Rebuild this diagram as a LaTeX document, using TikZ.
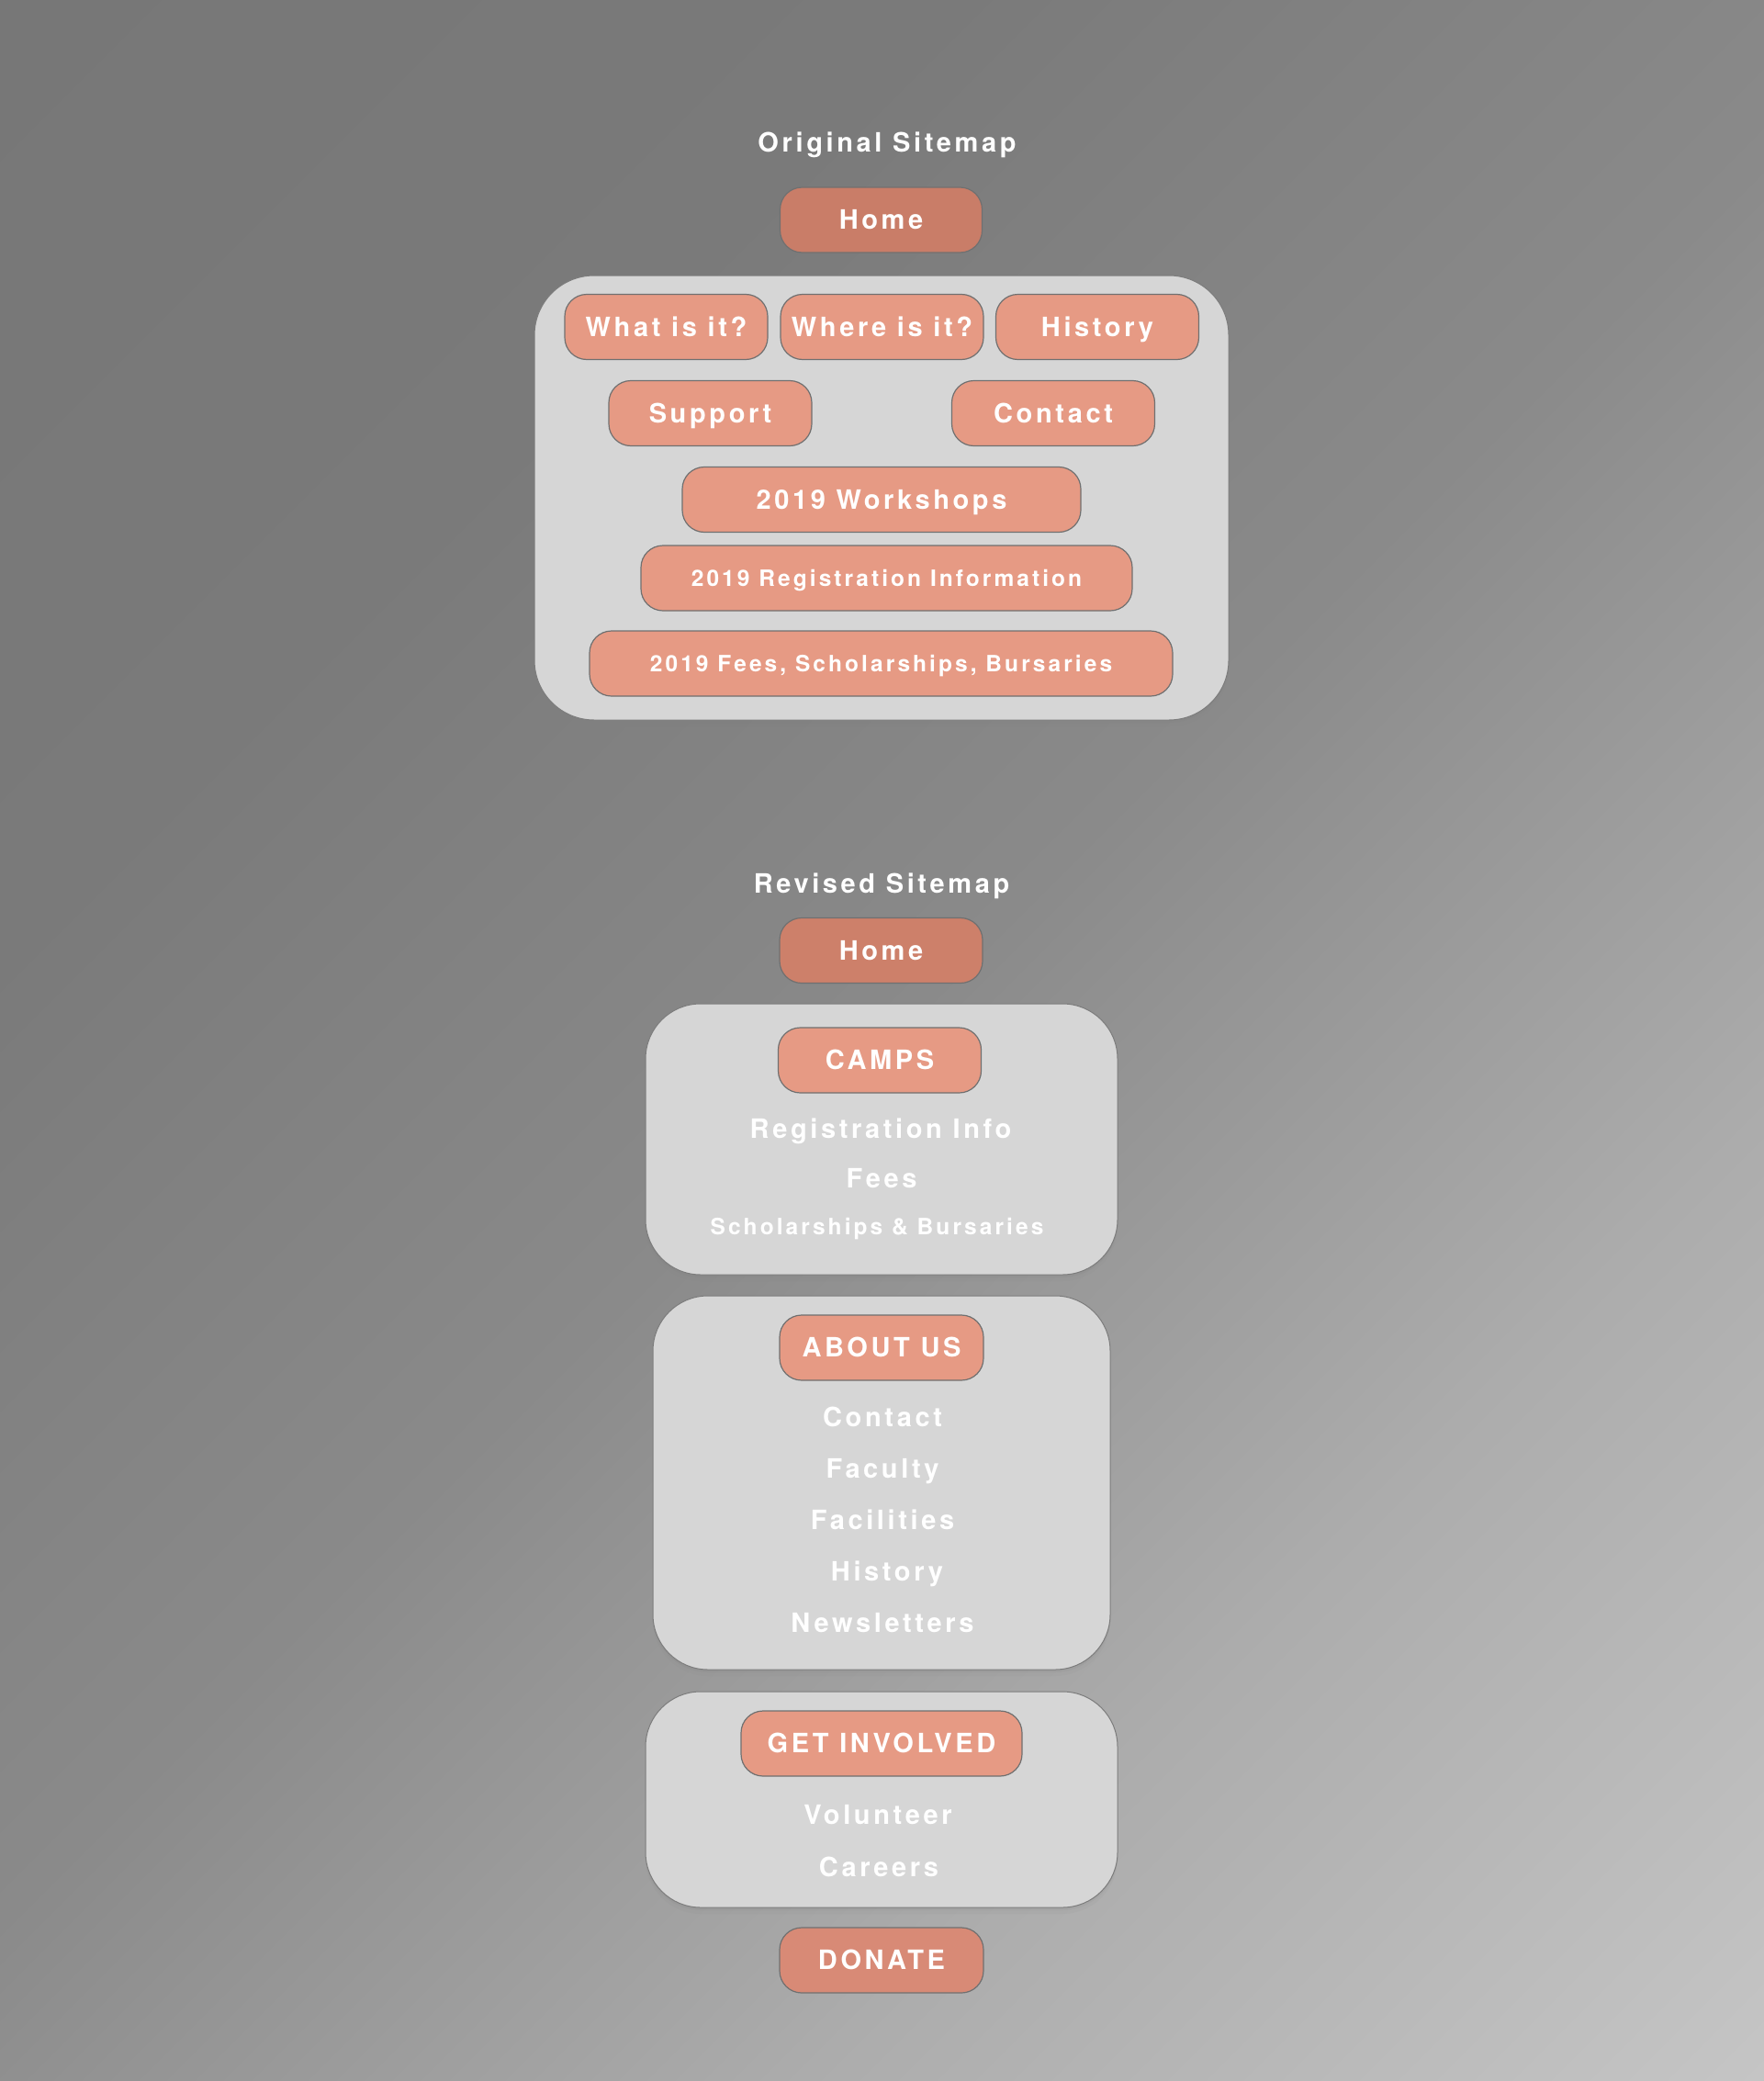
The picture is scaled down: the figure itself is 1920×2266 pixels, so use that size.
\documentclass[tikz,border=0pt]{standalone}
\usepackage{fontspec}
\setmainfont{TeX Gyre Heros}
\newfontfamily\sitelbl[LetterSpace=12.5]{TeX Gyre Heros}
\usetikzlibrary{shadows,shadings}
\definecolor{homefill}{HTML}{C97D68}
\definecolor{homefillb}{HTML}{CD806A}
\definecolor{itemfill}{HTML}{E69A84}
\definecolor{donatefill}{HTML}{D88A76}
\definecolor{btnline}{HTML}{707070}
\definecolor{panelfill}{HTML}{D6D6D6}
\definecolor{panelline}{HTML}{7C7C7C}
\definecolor{bgA}{HTML}{777777}
\definecolor{bgB}{HTML}{7A7A7A}
\definecolor{bgC}{HTML}{8A8A8A}
\definecolor{bgD}{HTML}{ACACAC}
\definecolor{bgE}{HTML}{C5C5C5}
\pgfdeclarehorizontalshading{bgdiag}{100bp}{color(0bp)=(bgA); color(14.6bp)=(bgA);
  color(32.3bp)=(bgB); color(50bp)=(bgC); color(67.7bp)=(bgD); color(85.4bp)=(bgE);
  color(100bp)=(bgE)}
\newcommand{\sitebig}{\sitelbl\bfseries\fontsize{29}{34}\selectfont}
\newcommand{\sitesmall}{\sitelbl\bfseries\fontsize{24.5}{28}\selectfont}
\begin{document}
\begin{tikzpicture}[x=1pt,y=-1pt,
  btn/.style={draw=btnline, line width=1.2pt, fill=itemfill, rounded corners=24pt,
    minimum height=71pt, inner sep=0pt, text=white, font=\sitebig,
    text height=20.9pt, text depth=0pt},
  smallbtn/.style={btn, font=\sitesmall, text height=17.6pt},
  homebtn/.style={btn, fill=homefill},
  panel/.style={draw=panelline, line width=1pt, fill=panelfill, inner sep=0pt,
    drop shadow={shadow xshift=0pt, shadow yshift=-3pt, opacity=0.12},
    drop shadow={shadow xshift=0pt, shadow yshift=-7pt, opacity=0.07}},
  item/.style={inner sep=0pt, text=white, font=\sitebig, text height=20.9pt, text depth=0pt},
  smallitem/.style={item, font=\sitesmall, text height=17.6pt},
  title/.style={inner sep=0pt, text=white, font=\sitebig, text height=20.9pt, text depth=0pt}]
% background
\useasboundingbox (0,0) rectangle (1920,2266);
\shade[shading=bgdiag, shading angle=-45] (-4,-4) rectangle (1924,2270);

% ---------- Original sitemap ----------
\node[title] (t1) at (966,155) {Original Sitemap};
\node[homebtn, minimum width=220pt] (home1) at (959.5,239.5) {Home};
\node[panel, rounded corners=65pt, minimum width=756pt, minimum height=484pt] (p1) at (960,542) {};
\node[btn, minimum width=221pt] (what) at (725.5,356) {What is it?};
\node[btn, minimum width=221pt] (where) at (960.5,356) {Where is it?};
\node[btn, minimum width=221pt] (hist1) at (1195,356) {History};
\node[btn, minimum width=221pt] (supp) at (773.5,450) {Support};
\node[btn, minimum width=221pt] (cont1) at (1147,450) {Contact};
\node[btn, minimum width=434pt] (work) at (960,544) {2019 Workshops};
\node[smallbtn, minimum width=535pt] (reg) at (965.5,629.5) {2019 Registration Information};
\node[smallbtn, minimum width=635pt] (fees1) at (959.5,722.5) {2019 Fees, Scholarships, Bursaries};

% ---------- Revised sitemap ----------
\node[title] (t2) at (960,962) {Revised Sitemap};
\node[homebtn, fill=homefillb, minimum width=221pt] (home2) at (959.5,1035) {Home};

\node[panel, rounded corners=60pt, minimum width=514pt, minimum height=295pt] (pc) at (960,1240.5) {};
\node[btn, minimum width=221pt] (camps) at (958,1154.5) {CAMPS};
\node[item] (reginfo) at (959,1229) {Registration Info};
\node[item] (fees2) at (960,1283) {Fees};
\node[smallitem] (schol) at (955,1336) {Scholarships \& Bursaries};

\node[panel, rounded corners=60pt, minimum width=498pt, minimum height=407pt] (pa) at (960,1614.5) {};
\node[btn, minimum width=222pt] (about) at (960,1467.5) {ABOUT US};
\node[item] (cont2) at (961,1543) {Contact};
\node[item] (fac) at (961,1599) {Faculty};
\node[item] (facil) at (961,1655) {Facilities};
\node[item] (hist2) at (966,1711) {History};
\node[item] (news) at (961,1767) {Newsletters};

\node[panel, rounded corners=60pt, minimum width=514pt, minimum height=235pt] (pg) at (960,1959.5) {};
\node[btn, minimum width=306pt] (getinv) at (960,1898.5) {GET INVOLVED};
\node[item] (vol) at (956,1976) {Volunteer};
\node[item] (car) at (957,2033) {Careers};

\node[btn, fill=donatefill, minimum width=222pt] (donate) at (960,2134.5) {DONATE};
\end{tikzpicture}
\end{document}
